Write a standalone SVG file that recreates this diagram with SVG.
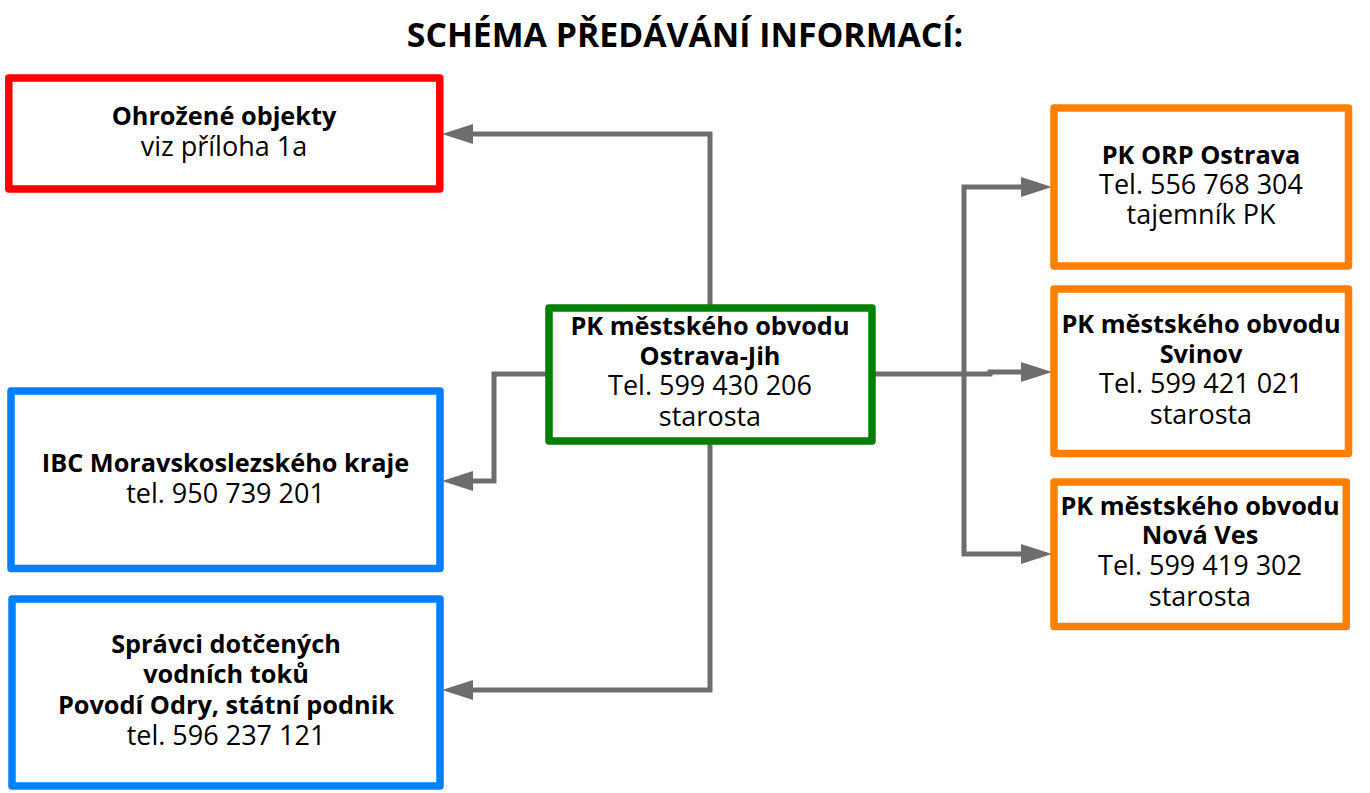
<svg xmlns="http://www.w3.org/2000/svg" width="1370" height="793" viewBox="0 0 1370 793">
<style>
  .box { fill: #ffffff; stroke-width: 7.5; stroke-linejoin: round; }
  .red { stroke: #ff0000; }
  .green { stroke: #008000; }
  .blue { stroke: #0080ff; }
  .orange { stroke: #ff8000; }
  text { font-family: "Open Sans", "Noto Sans", "DejaVu Sans", sans-serif; fill: #000000; text-anchor: middle; }
  .b { font-weight: bold; font-size: 25.3px; }
  .r { font-size: 27px; }
  .title { font-weight: bold; font-size: 33.8px; }
  .conn { fill: none; stroke: #6d6d6d; stroke-width: 5; }
  .head { fill: #6d6d6d; }
</style>
<rect width="1370" height="793" fill="#ffffff"/>
<text class="title" x="685" y="47">SCHÉMA PŘEDÁVÁNÍ INFORMACÍ:</text>

<g id="connectors">
  <polyline class="conn" points="710,306 710,134 470,134"/>
  <polygon class="head" points="442,134 473,124 473,144"/>
  <polyline class="conn" points="549,374 494,374 494,481 470,481"/>
  <polygon class="head" points="442,481 473,471 473,491"/>
  <polyline class="conn" points="710,441 710,690 470,690"/>
  <polygon class="head" points="442,690 473,680 473,700"/>
  <polyline class="conn" points="872,374 990,374 990,372 1025,372"/>
  <polyline class="conn" points="1025,187 964,187 964,554 1025,554"/>
  <polygon class="head" points="1052,187 1021,177 1021,197"/>
  <polygon class="head" points="1052,372 1021,362 1021,382"/>
  <polygon class="head" points="1052,554 1021,544 1021,564"/>
</g>

<g id="ohrozene-objekty">
  <rect class="box red" x="8.8" y="78" width="431" height="111"/>
  <text class="b" x="224" y="125">Ohrožené objekty</text>
  <text class="r" x="224" y="156">viz příloha 1a</text>
</g>

<g id="pk-ostrava-jih">
  <rect class="box green" x="549" y="308" width="323" height="133"/>
  <text class="b" x="710" y="335">PK městského obvodu</text>
  <text class="b" x="710" y="365">Ostrava-Jih</text>
  <text class="r" x="710" y="395">Tel. 599 430 206</text>
  <text class="r" x="710" y="426">starosta</text>
</g>

<g id="ibc">
  <rect class="box blue" x="11" y="391" width="429" height="177.5"/>
  <text class="b" x="225.5" y="472">IBC Moravskoslezského kraje</text>
  <text class="r" x="225.5" y="503">tel. 950 739 201</text>
</g>

<g id="spravci">
  <rect class="box blue" x="12" y="599" width="428" height="187"/>
  <text class="b" x="226" y="653">Správci dotčených</text>
  <text class="b" x="226" y="683">vodních toků</text>
  <text class="b" x="226" y="714">Povodí Odry, státní podnik</text>
  <text class="r" x="226" y="745">tel. 596 237 121</text>
</g>

<g id="pk-orp-ostrava">
  <rect class="box orange" x="1054" y="108" width="294.5" height="158"/>
  <text class="b" x="1201" y="164">PK ORP Ostrava</text>
  <text class="r" x="1201" y="194">Tel. 556 768 304</text>
  <text class="r" x="1201" y="224">tajemník PK</text>
</g>

<g id="pk-svinov">
  <rect class="box orange" x="1054" y="289" width="294.5" height="164.5"/>
  <text class="b" x="1201" y="333">PK městského obvodu</text>
  <text class="b" x="1201" y="363">Svinov</text>
  <text class="r" x="1201" y="393">Tel. 599 421 021</text>
  <text class="r" x="1201" y="424">starosta</text>
</g>

<g id="pk-nova-ves">
  <rect class="box orange" x="1054" y="482" width="292.3" height="144.5"/>
  <text class="b" x="1200" y="515">PK městského obvodu</text>
  <text class="b" x="1200" y="544">Nová Ves</text>
  <text class="r" x="1200" y="575">Tel. 599 419 302</text>
  <text class="r" x="1200" y="606">starosta</text>
</g>
</svg>
